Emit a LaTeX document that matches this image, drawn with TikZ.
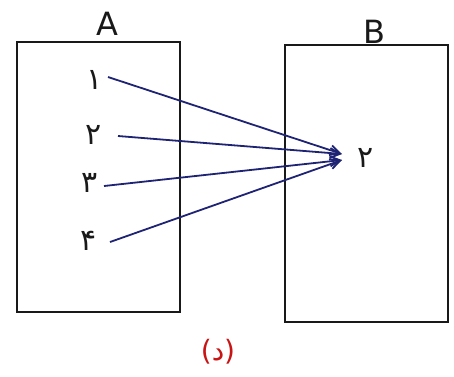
\documentclass[tikz,border=0pt]{standalone}
\usepackage{fontspec}
\usetikzlibrary{arrows.meta}
\TeXXeTstate=1
\newfontfamily\arabicfont[Script=Arabic]{DejaVu Sans}
\setsansfont{DejaVu Sans}
\definecolor{ink}{RGB}{25,25,25}
\definecolor{navy}{RGB}{30,35,115}
\definecolor{redink}{RGB}{200,20,20}
\begin{document}
\begin{tikzpicture}[x=1pt,y=-1pt,
  setbox/.style={draw=ink,line width=1.8pt},
  digit/.style={font=\arabicfont\fontsize{30}{30}\selectfont,text=ink,inner sep=1pt},
  setname/.style={font=\sffamily\fontsize{32}{32}\selectfont,text=ink,inner sep=0pt},
  mapto/.style={draw=navy,line width=1.8pt,-{Straight Barb[length=10pt,width=10pt,line width=1.8pt]}}]
\useasboundingbox (0,0) rectangle (454,376);
\draw[setbox] (17,42) rectangle (180,312);
\draw[setbox] (285,45) rectangle (448,322);
\node[setname] (A) at (107,24) {A};
\node[setname] (B) at (374,32) {B};
\node[digit] (a1) at (95,80) {\beginR ۱\endR};
\node[digit] (a2) at (94,135) {\beginR ۲\endR};
\node[digit] (a3) at (90,183) {\beginR ۳\endR};
\node[digit] (a4) at (89,241) {\beginR ۴\endR};
\node[digit] (b2) at (366,158) {\beginR ۲\endR};
\coordinate (t1) at (342,154);
\coordinate (t2) at (342,160);
\coordinate (s1) at (108,77);
\coordinate (s2) at (118,136);
\coordinate (s3) at (104,186);
\coordinate (s4) at (110,242);
\draw[mapto] (s1) -- (t1);
\draw[mapto] (s2) -- (t1);
\draw[mapto] (s3) -- (t2);
\draw[mapto] (s4) -- (t2);
\node[font=\arabicfont\fontsize{28}{28}\selectfont,text=redink] (lab) at (218,352) {\beginR(د)\endR};
\end{tikzpicture}
\end{document}
